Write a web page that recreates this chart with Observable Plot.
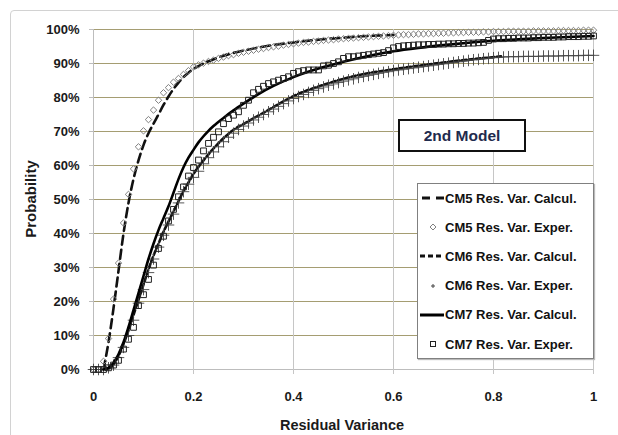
<!DOCTYPE html>
<html><head><meta charset="utf-8">
<script src="https://cdn.jsdelivr.net/npm/d3@7"></script>
<script src="https://cdn.jsdelivr.net/npm/@observablehq/plot@0.6"></script>
<style>
html,body{margin:0;padding:0;background:#fff;}
#wrap{position:relative;width:618px;height:435px;overflow:hidden;font-family:"Liberation Sans",Arial,sans-serif;}
#frame{position:absolute;left:10px;top:10px;width:700px;height:500px;border:1px solid #d2d2d2;border-radius:4px;}
#chart{position:absolute;left:0;top:0;}
.ytitle{position:absolute;left:30px;top:199px;transform:translate(-50%,-50%) rotate(-90deg);font-weight:bold;font-size:15px;color:#1a1a1a;white-space:nowrap;}
.xtitle{position:absolute;left:342px;top:425px;transform:translate(-50%,-50%);font-weight:bold;font-size:14.5px;color:#1a1a1a;white-space:nowrap;}
#note{position:absolute;left:398px;top:119px;width:124px;height:29px;border:2px solid #111;background:#fff;display:flex;align-items:center;justify-content:center;font-weight:bold;font-size:15.5px;color:#1f2b4d;}
#legend{position:absolute;left:417px;top:183px;width:175px;height:174px;border:1px solid #808080;background:#fff;box-shadow:1px 1px 1px #bbb;}
.row{position:absolute;left:0;height:20px;display:flex;align-items:center;font-weight:bold;font-size:13px;color:#111;white-space:nowrap;}
.row svg{display:block;margin-left:2px;margin-right:1px;}
</style>
</head><body>
<div id="wrap">
  <div id="frame"></div>
  <div id="chart"></div>
  <div class="ytitle">Probability</div>
  <div class="xtitle">Residual Variance</div>
  <div id="note">2nd Model</div>
  <div id="legend"></div>
</div>
<script>
// ---- data ----
const resVar = [0,0.01,0.02,0.03,0.04,0.05,0.06,0.07,0.08,0.09,
  0.10,0.11,0.12,0.13,0.14,0.15,0.16,0.17,0.18,0.19,
  0.20,0.21,0.22,0.23,0.24,0.25,0.26,0.27,0.28,0.29,
  0.30,0.31,0.32,0.33,0.34,0.35,0.36,0.37,0.38,0.39,
  0.40,0.41,0.42,0.43,0.44,0.45,0.46,0.47,0.48,0.49,
  0.50,0.51,0.52,0.53,0.54,0.55,0.56,0.57,0.58,0.59,
  0.60,0.61,0.62,0.63,0.64,0.65,0.66,0.67,0.68,0.69,
  0.70,0.71,0.72,0.73,0.74,0.75,0.76,0.77,0.78,0.79,
  0.80,0.81,0.82,0.83,0.84,0.85,0.86,0.87,0.88,0.89,
  0.90,0.91,0.92,0.93,0.94,0.95,0.96,0.97,0.98,0.99,1.00];

const cm5Exp = [0,0,2.4,9.1,20.7,31.3,43.1,51.5,59,65.5,
  70.2,73.5,76.3,79.2,81.4,82.9,84.5,85.6,86.8,87.9,
  89.0,89.6,90.1,90.6,91.0,91.5,91.9,92.3,92.6,93.0,
  93.3,93.6,93.9,94.2,94.4,94.7,94.9,95.1,95.4,95.6,
  95.8,96.0,96.2,96.3,96.5,96.6,96.8,96.9,97.0,97.2,
  97.3,97.4,97.5,97.6,97.7,97.8,97.9,98.0,98.1,98.2,
  98.3,98.4,98.5,98.5,98.6,98.7,98.7,98.8,98.8,98.9,
  98.9,99.0,99.0,99.1,99.1,99.2,99.2,99.2,99.3,99.3,
  99.4,99.4,99.4,99.5,99.5,99.5,99.5,99.5,99.6,99.6,
  99.6,99.6,99.6,99.7,99.7,99.7,99.7,99.7,99.8,99.8,99.8];

const cm6Exp = [0,0,0,0.5,1.3,3.5,6.5,10,14.5,19.5,
  23.5,28.5,32.5,36,39.5,42.5,45.7,49,52.3,54.5,
  56.5,58.3,60.5,62.3,64,65.5,67,68.3,69.5,70.6,
  71.6,72.5,73.4,74.2,75,75.8,76.6,77.4,78.2,79,
  79.7,80.3,80.9,81.5,82.1,82.6,83.1,83.6,84,84.4,
  84.8,85.2,85.5,85.9,86.2,86.5,86.8,87.1,87.4,87.6,
  87.9,88.1,88.3,88.5,88.7,88.9,89.1,89.3,89.5,89.7,
  89.9,90.1,90.3,90.5,90.7,90.9,91.1,91.2,91.4,91.5,
  91.7,91.8,91.9,92,92,92,92.1,92.1,92.1,92.1,
  92.2,92.2,92.2,92.2,92.3,92.3,92.3,92.3,92.4,92.4,92.4];

const cm7Exp = [0,0,0,0.5,1.3,2.7,6,8.9,12.4,18.8,
  22,26.5,30.7,35.6,39.2,43.7,47.1,50.8,53.7,56.9,
  59.4,61.6,64.3,66.5,68.3,69.9,72.3,73.8,74.8,75.8,
  77.7,79.2,81.4,82.4,83.3,84.1,84.6,85.1,85.6,86.1,
  87.1,87.6,87.9,88.1,88.1,88.1,89.3,89.5,90,90.5,
  91.5,92,92,92.2,92.4,92.6,92.8,93,93.2,93.8,
  94.6,95,95.2,95.3,95.4,95.5,95.5,95.6,95.6,95.7,
  95.7,95.8,95.8,95.9,95.9,96,96,96.1,96.2,96.8,
  97.2,97.3,97.3,97.4,97.4,97.5,97.5,97.5,97.6,97.6,
  97.7,97.7,97.7,97.8,97.8,97.9,97.9,97.9,98,98,98.1];

const cm5CalcX = [0.02,0.03,0.04,0.05,0.06,0.07,0.08,0.09,0.10,0.11,0.12,0.13,0.14,0.15,0.16,0.17,0.18,0.19,0.20,0.22,0.25,0.30,0.35,0.40,0.45,0.50,0.55,0.60];
const cm5CalcY = [0,8,18,29,40,49,56,61.5,66,69.5,72.3,75,77.8,80.3,82.5,84.4,86,87.3,88.4,90,91.8,93.8,95.2,96.2,97,97.6,98.1,98.4];

const cm6CalcX = [0.025,0.04,0.05,0.06,0.07,0.08,0.09,0.10,0.11,0.12,0.13,0.14,0.15,0.16,0.17,0.18,0.19,0.20,0.22,0.24,0.26,0.28,0.30,0.34,0.40,0.47,0.53,0.60,0.70,0.815];
const cm6CalcY = [0,1.5,4,7.5,11.5,16,20.5,25,29.5,33.5,37,40.5,43.5,46.5,49.5,52.5,55,57.5,61.5,65,68,70.5,72.2,75.5,80.4,84.2,86.6,88.3,90.3,92.1];

const cm7CalcX = [0.02,0.03,0.04,0.05,0.06,0.07,0.08,0.09,0.10,0.11,0.12,0.13,0.14,0.15,0.16,0.17,0.18,0.19,0.20,0.21,0.22,0.23,0.24,0.26,0.28,0.30,0.33,0.36,0.40,0.45,0.50,0.55,0.60,0.65,0.70,0.75,0.80,0.85,0.90,0.95,1.00];
const cm7CalcY = [0,0.5,2,4.5,8,12.5,17.5,22.5,27.5,32.5,37,41,44.5,48,52,56,59.5,62.3,64.6,66.8,68.6,70.2,71.6,74,76.2,78.2,81,83.4,86,88.5,90.5,92.2,93.6,94.6,95.4,96.1,96.7,97.1,97.5,97.8,98.1];

const xTicks = [0,0.2,0.4,0.6,0.8,1];
const xTickLabels = ["0","0.2","0.4","0.6","0.8","1"];
const yTicks = [0,10,20,30,40,50,60,70,80,90,100];
const yTickLabels = ["0%","10%","20%","30%","40%","50%","60%","70%","80%","90%","100%"];

const seriesNames = ["CM5 Res. Var. Calcul.","CM5 Res. Var. Exper.","CM6 Res. Var. Calcul.","CM6 Res. Var. Exper.","CM7 Res. Var. Calcul.","CM7 Res. Var. Exper."];

// ---- build tables ----
const pts = (xs, ys) => xs.map((x, i) => ({x, y: ys[i]}));
const cm5E = pts(resVar, cm5Exp), cm6E = pts(resVar, cm6Exp), cm7E = pts(resVar, cm7Exp);
const cm5C = pts(cm5CalcX, cm5CalcY), cm6C = pts(cm6CalcX, cm6CalcY), cm7C = pts(cm7CalcX, cm7CalcY);

const chart = Plot.plot({
  width: 618, height: 435,
  marginLeft: 93, marginRight: 25, marginTop: 29, marginBottom: 66,
  x: {domain: [0, 1]},
  y: {domain: [0, 100]},
  style: {fontFamily: "Liberation Sans, Arial, sans-serif", fontSize: "13px", fontWeight: "bold", color: "#1a1a1a", background: "transparent"},
  marks: [
    Plot.ruleY(yTicks.filter(d => d > 0), {stroke: "#a59d72", strokeWidth: 1}),
    Plot.ruleX(xTicks.filter(d => d > 0), {stroke: "#c6c6c6", strokeWidth: 1}),
    Plot.ruleX([0], {stroke: "#bdbdbd", strokeWidth: 1}),
    Plot.ruleY([0], {stroke: "#bdbdbd", strokeWidth: 1}),
    Plot.axisX({ticks: xTicks, tickFormat: d => xTickLabels[xTicks.indexOf(d)], tickSize: 5, tickPadding: 17, stroke: "#c6c6c6", label: null}),
    Plot.axisY({ticks: yTicks, tickFormat: d => yTickLabels[yTicks.indexOf(d)], tickSize: 4, tickPadding: 10, stroke: "#bdbdbd", label: null}),
    Plot.line(cm5C, {x: "x", y: "y", stroke: "#111", strokeWidth: 2.6, strokeDasharray: "9,5", curve: "monotone-x"}),
    Plot.dot(cm5E, {x: "x", y: "y", symbol: "diamond2", r: 2.9, stroke: "#808080", strokeWidth: 1, fill: "none"}),
    Plot.line(cm6C, {x: "x", y: "y", stroke: "#111", strokeWidth: 2.6, strokeDasharray: "4.5,2.5", curve: "monotone-x"}),
    Plot.dot(cm6E, {x: "x", y: "y", symbol: "plus", r: 3.8, stroke: "#444", strokeWidth: 0.9}),
    Plot.line(cm7C, {x: "x", y: "y", stroke: "#000", strokeWidth: 2.6, curve: "monotone-x"}),
    Plot.dot(cm7E, {x: "x", y: "y", symbol: "square2", r: 3.7, stroke: "#222", strokeWidth: 1, fill: "none"})
  ]
});
document.getElementById("chart").appendChild(chart);

// ---- legend ----
const legendSym = [
  `<line x1="2" y1="10" x2="24" y2="10" stroke="#111" stroke-width="3" stroke-dasharray="8,6"/>`,
  `<path d="M13,7 L16,10 L13,13 L10,10 Z" fill="none" stroke="#808080" stroke-width="1"/>`,
  `<line x1="0" y1="10" x2="24" y2="10" stroke="#111" stroke-width="3" stroke-dasharray="5,3"/>`,
  `<path d="M13,8 V12 M11,10 H15" stroke="#444" stroke-width="1"/>`,
  `<line x1="0" y1="10" x2="24" y2="10" stroke="#000" stroke-width="3"/>`,
  `<rect x="10.5" y="7.5" width="5" height="5" fill="none" stroke="#222" stroke-width="1"/>`
];
const legend = document.getElementById("legend");
seriesNames.forEach((name, i) => {
  const row = document.createElement("div");
  row.className = "row";
  row.style.top = (4 + i * 29.2) + "px";
  row.innerHTML = `<svg width="24" height="20">${legendSym[i]}</svg><span>${name}</span>`;
  legend.appendChild(row);
});
</script>
</body></html>
